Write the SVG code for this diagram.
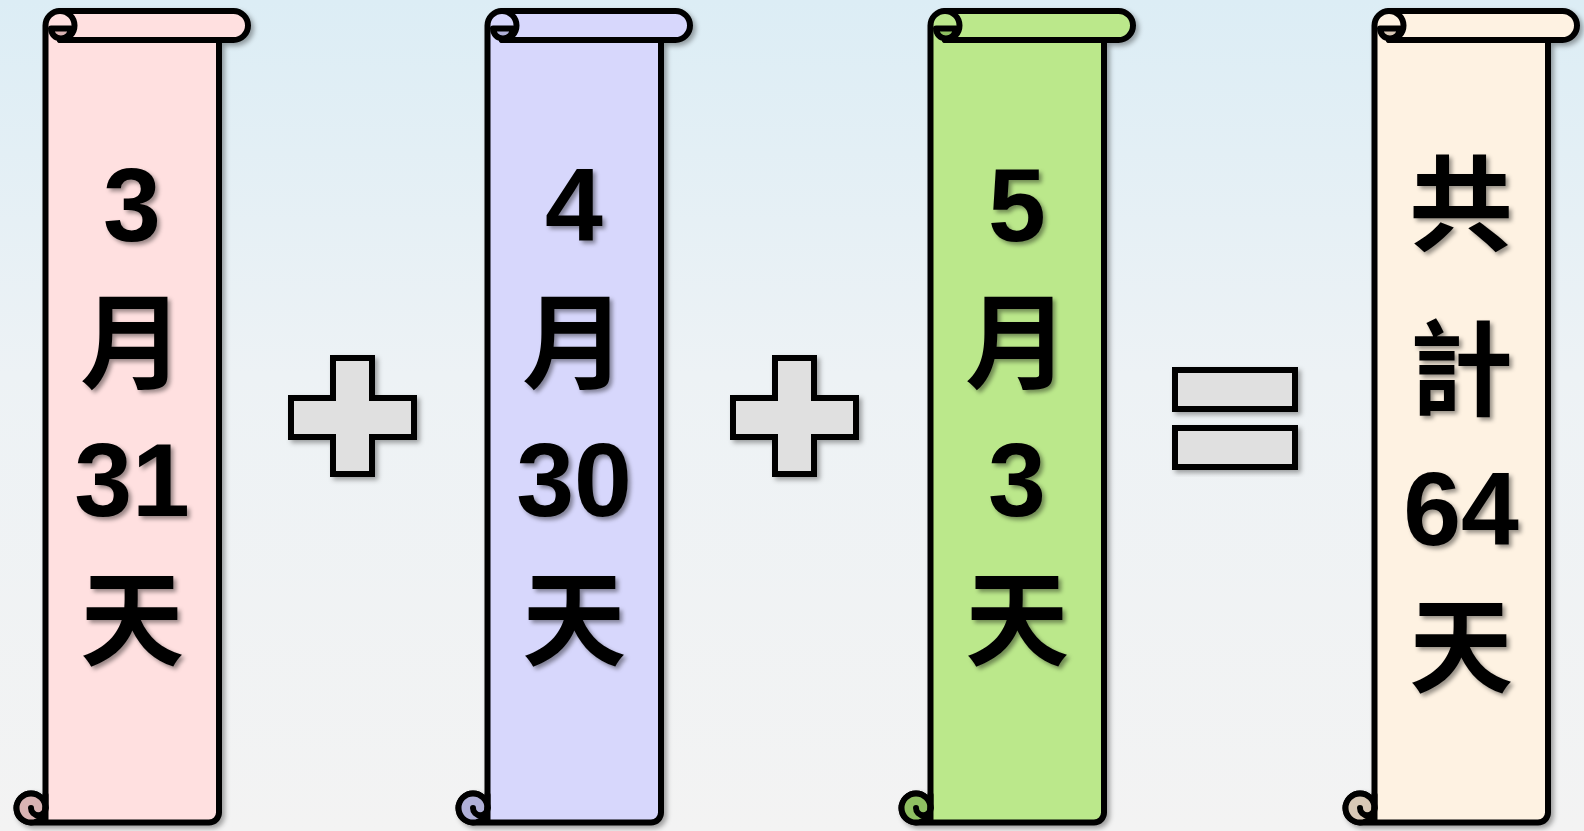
<svg xmlns="http://www.w3.org/2000/svg" width="1584" height="831" viewBox="0 0 1584 831">
<defs>
<linearGradient id="bg" x1="0" y1="0" x2="0" y2="1">
<stop offset="0" stop-color="#dcedf5"/>
<stop offset="0.45" stop-color="#edf2f5"/>
<stop offset="1" stop-color="#f3f3f3"/>
</linearGradient>
<filter id="sh" x="-10%" y="-5%" width="130%" height="115%">
<feDropShadow dx="3" dy="3" stdDeviation="2.5" flood-color="#000" flood-opacity="0.35"/>
</filter>
<filter id="tsh" x="-20%" y="-20%" width="150%" height="150%">
<feDropShadow dx="3" dy="3" stdDeviation="2" flood-color="#000" flood-opacity="0.4"/>
</filter>
<g id="scroll">
<path class="body" d="M45.5,25.5 L45.5,808 A14.5,14.5 0 1 0 31,822.5 L209,822.5 A10,10 0 0 0 219,812.5 L219,40 L233.5,40 A14.5,14.5 0 0 0 233.5,11 L60,11 A14.5,14.5 0 0 0 45.5,25.5 Z"/>
<path class="curl" d="M51,28.5 A10,10 0 0 0 71,28.5 Z"/>
<path class="line" d="M60,40 L219,40"/>
<path class="line" d="M60,11 A14.5,14.5 0 0 1 60,40"/>
<circle class="curl" cx="31" cy="808" r="14.5"/>
<path class="line" d="M45.5,808 A7.25,7.25 0 0 1 31,808"/>
<path class="line" d="M45.5,795 L45.5,822"/>
</g>
</defs>
<style>
.body{fill:var(--m);stroke:#000;stroke-width:6;stroke-linejoin:round}
.line{fill:none;stroke:#000;stroke-width:6;stroke-linecap:round}
.curl{fill:var(--c);stroke:#000;stroke-width:6;stroke-linejoin:round}
.op{fill:#e0e0e0;stroke:#000;stroke-width:6;stroke-linejoin:miter}
.t{font-family:"Liberation Sans","Noto Sans CJK TC",sans-serif;font-weight:bold;font-size:104px;text-anchor:middle;fill:#000}
#s1{--m:#ffe0e0;--c:#d9b3b3}
#s2{--m:#d7d7fc;--c:#b0b0d8}
#s3{--m:#bbe88b;--c:#8fbf62}
#s4{--m:#fef2e2;--c:#d8c8b6}
</style>
<rect width="1584" height="831" fill="url(#bg)"/>
<g id="s1" filter="url(#sh)"><use href="#scroll"/></g>
<g id="s2" filter="url(#sh)" transform="translate(442,0)"><use href="#scroll"/></g>
<g id="s3" filter="url(#sh)" transform="translate(885,0)"><use href="#scroll"/></g>
<g id="s4" filter="url(#sh)" transform="translate(1329,0)"><use href="#scroll"/></g>
<g id="plus1" filter="url(#sh)"><path class="op" d="M333,358 H372 V398 H414 V437 H372 V474 H333 V437 H291 V398 H333 Z"/></g>
<g id="plus2" filter="url(#sh)" transform="translate(442,0)"><path class="op" d="M333,358 H372 V398 H414 V437 H372 V474 H333 V437 H291 V398 H333 Z"/></g>
<g id="equals" filter="url(#sh)"><rect class="op" x="1175" y="370" width="120" height="39"/><rect class="op" x="1175" y="428" width="120" height="39"/></g>
<g id="text1" class="t" filter="url(#tsh)">
<text x="132" y="241">3</text>
<text x="132" y="381">月</text>
<text x="132" y="516">31</text>
<text x="132" y="658">天</text>
</g>
<g id="text2" class="t" filter="url(#tsh)">
<text x="574" y="241">4</text>
<text x="574" y="381">月</text>
<text x="574" y="516">30</text>
<text x="574" y="658">天</text>
</g>
<g id="text3" class="t" filter="url(#tsh)">
<text x="1017" y="241">5</text>
<text x="1017" y="381">月</text>
<text x="1017" y="516">3</text>
<text x="1017" y="658">天</text>
</g>
<g id="text4" class="t" filter="url(#tsh)">
<text x="1461" y="243">共</text>
<text x="1461" y="408">計</text>
<text x="1461" y="545">64</text>
<text x="1461" y="685">天</text>
</g>
</svg>
